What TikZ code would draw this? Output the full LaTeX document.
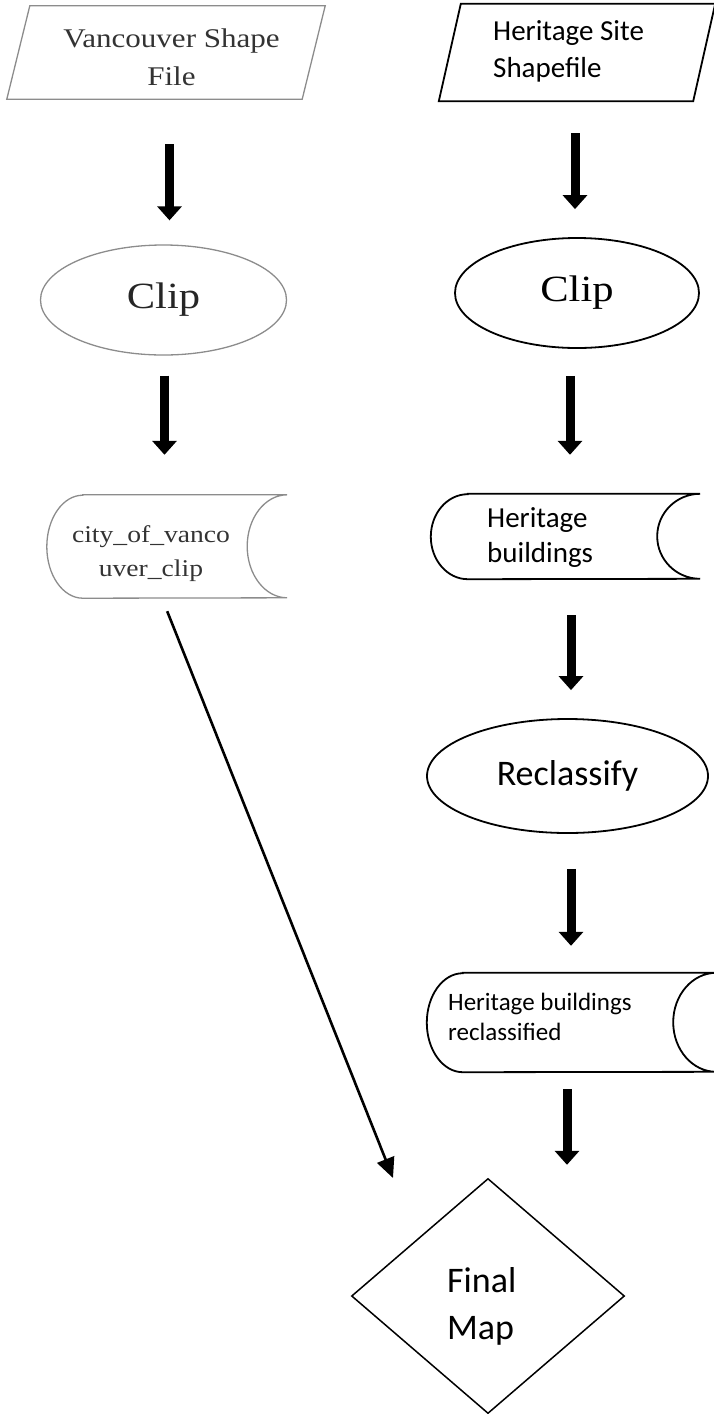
\documentclass[tikz,border=0pt]{standalone}
\usepackage{fontspec}
\setmainfont{Liberation Serif}[FakeStretch=1.15]
\newfontfamily\calib{Carlito}
\usetikzlibrary{arrows.meta,shapes.geometric}
\begin{document}
\begin{tikzpicture}[x=1pt,y=1pt,
  fat/.style={line width=9pt, -{Triangle[width=24pt,length=14pt]}},
  thinarrow/.style={line width=2.6pt, -{Triangle[width=18pt,length=20pt]}},
  box/.style={rectangle, inner sep=0pt, draw=none},
  lgray/.style={draw=black!45, line width=1.3pt},
  blk/.style={draw=black, line width=1.8pt},
  ell/.style={ellipse, inner sep=0pt},
  seriftxt/.style={font=\fontsize{27}{38}\selectfont, text=black!80, inner sep=0pt},
  cliptxt/.style={font=\fontsize{37}{44}\selectfont},
  sanstxt/.style={font=\calib\fontsize{29}{35}\selectfont, inner sep=0pt, align=left, anchor=west},
]
\useasboundingbox (0,0) rectangle (713,-1414);

% ---- left column ----
\node[box, minimum width=318pt, minimum height=93pt] (pL) at (166,-52.5) {};
\draw[lgray] ([xshift=23pt]pL.north west) -- (pL.north east) -- ([xshift=-23pt]pL.south east) -- (pL.south west) -- cycle;
\node[seriftxt, align=center] (pLt) at (171.5,-57) {Vancouver Shape\\File};

\node[ell, lgray, minimum width=246pt, minimum height=110pt, cliptxt, text=black!85] (clipL) at (163.5,-300) {Clip};

\node[box, minimum width=240pt, minimum height=103pt] (cityL) at (167,-546.5) {};
\draw[lgray] ([xshift=36pt]cityL.north west) -- (cityL.north east)
  arc[start angle=90, end angle=270, x radius=40pt, y radius=51.5pt]
  -- ([xshift=36pt]cityL.south west)
  arc[start angle=270, end angle=90, x radius=36pt, y radius=51.5pt] -- cycle;
\node[seriftxt, align=center, font=\fontsize{24}{34}\selectfont] (cityLt) at (151,-554) {city\_of\_vanco\\uver\_clip};

% ---- right column ----
\node[box, minimum width=276pt, minimum height=97pt] (pR) at (577,-52.5) {};
\draw[blk] ([xshift=22pt]pR.north west) -- (pR.north east) -- ([xshift=-22pt]pR.south east) -- (pR.south west) -- cycle;
\node[sanstxt, font=\calib\fontsize{29}{37}\selectfont] (pRt) at (493,-51.5) {Heritage Site\\Shapefile};

\node[ell, blk, minimum width=244pt, minimum height=110pt, cliptxt] (clipR) at (577,-293) {Clip};

\node[box, minimum width=269pt, minimum height=85pt] (hb) at (565.5,-536.5) {};
\draw[blk] ([xshift=37pt]hb.north west) -- (hb.north east)
  arc[start angle=90, end angle=270, x radius=43pt, y radius=42.5pt]
  -- ([xshift=37pt]hb.south west)
  arc[start angle=270, end angle=90, x radius=37pt, y radius=42.5pt] -- cycle;
\node[sanstxt] (hbt) at (487,-537.5) {Heritage\\buildings};

\node[ell, blk, minimum width=281pt, minimum height=114pt, font=\calib\fontsize{36}{42}\selectfont] (recl) at (567.5,-776) {Reclassify};

\node[box, minimum width=289pt, minimum height=99pt] (hbr) at (571.5,-1022.5) {};
\draw[blk] ([xshift=36pt]hbr.north west) -- (hbr.north east)
  arc[start angle=90, end angle=270, x radius=43pt, y radius=49.5pt]
  -- ([xshift=36pt]hbr.south west)
  arc[start angle=270, end angle=90, x radius=36pt, y radius=49.5pt] -- cycle;
\node[sanstxt, font=\calib\fontsize{25}{30}\selectfont] (hbrt) at (448,-1017) {Heritage buildings\\reclassified};

\node[box, minimum width=272pt, minimum height=234pt] (dia) at (488,-1296) {};
\draw[blk, line width=1.5pt] (dia.north) -- (dia.east) -- (dia.south) -- (dia.west) -- cycle;
\node[sanstxt, font=\calib\fontsize{36}{47}\selectfont] (diat) at (447,-1306) {Final\\Map};

% ---- connectors ----
\draw[fat, shorten <=45pt, shorten >=24pt] ([xshift=3.5pt]pL.south) -- ([xshift=3.5pt]pL.south |- clipL.north);
\draw[fat, shorten <=20pt, shorten >=40pt] ([xshift=1pt]clipL.south) -- ([xshift=1pt]clipL.south |- cityL.north);
\coordinate (tipL) at (393,-1178);
\draw[thinarrow, shorten <=14pt] ([xshift=-5pt]cityL.south) -- (tipL);

\draw[fat, shorten <=32pt, shorten >=28pt] ([xshift=-2pt]pR.south) -- ([xshift=-2pt]pR.south |- clipR.north);
\draw[fat, shorten <=27pt, shorten >=39pt] ([xshift=-7pt]clipR.south) -- ([xshift=-7pt]clipR.south |- hb.north);
\draw[fat, shorten <=36pt, shorten >=28pt] ([xshift=5.5pt]hb.south) -- ([xshift=5.5pt]hb.south |- recl.north);
\draw[fat, shorten <=35pt, shorten >=27pt] ([xshift=3.5pt]recl.south) -- ([xshift=3.5pt]recl.south |- hbr.north);
\draw[fat, shorten <=17pt, shorten >=14pt] ([xshift=-4.5pt]hbr.south) -- ([xshift=-4.5pt]hbr.south |- dia.north);
\end{tikzpicture}
\end{document}
